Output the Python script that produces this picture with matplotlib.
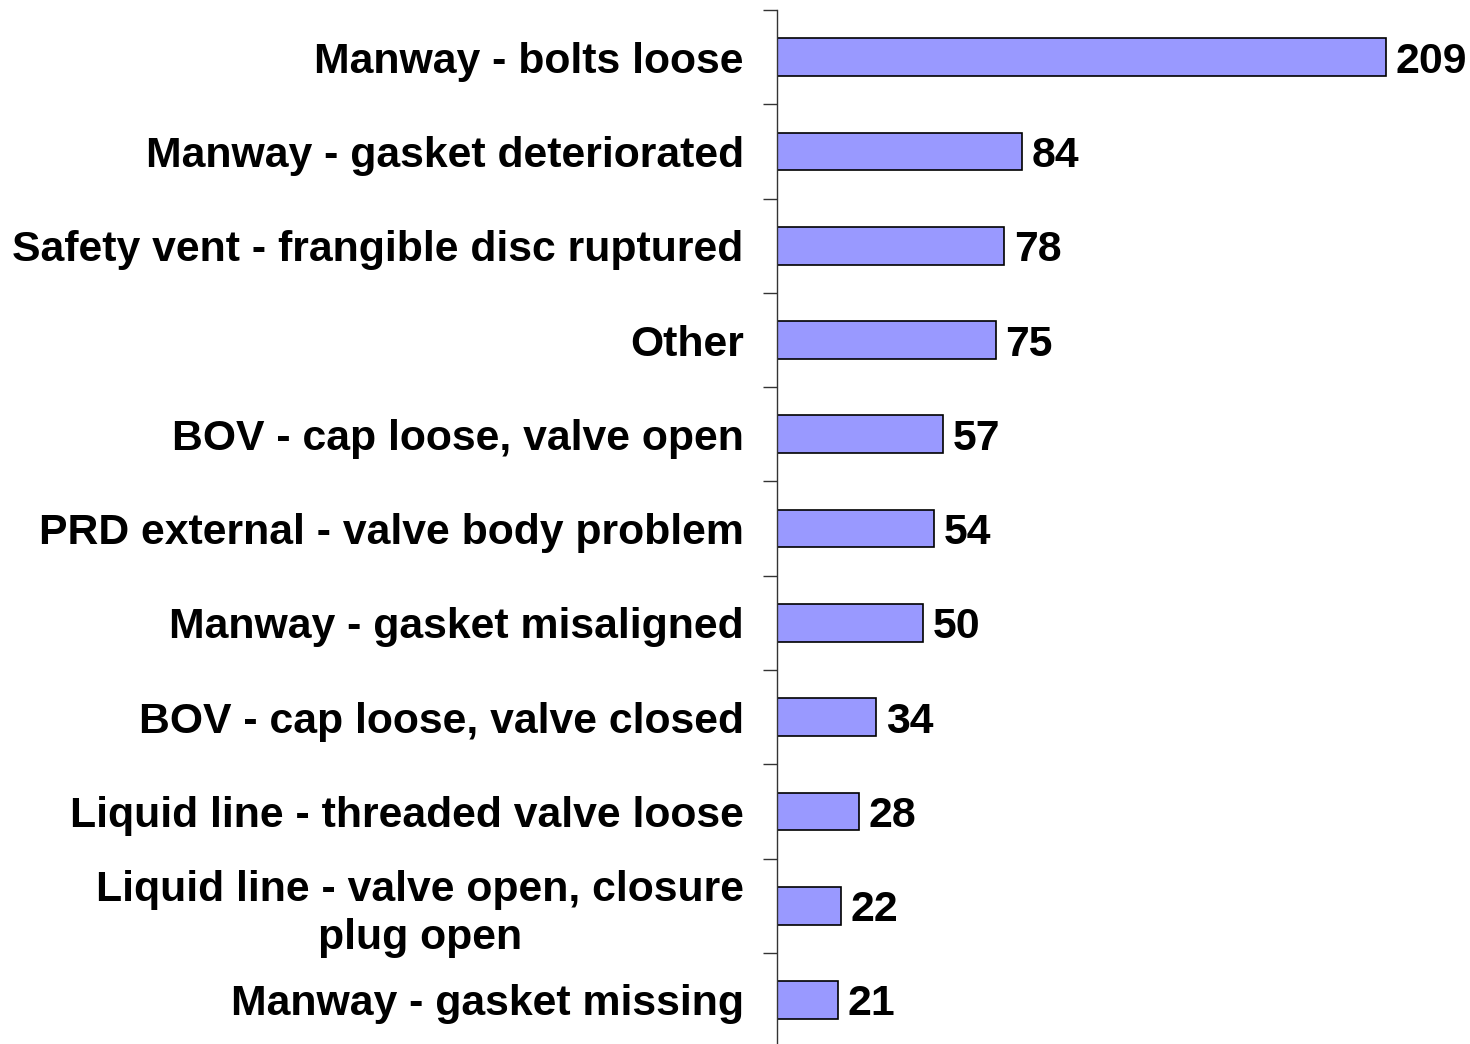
import matplotlib.pyplot as plt
import numpy as np

plt.rcParams['font.family'] = ['Liberation Sans', 'DejaVu Sans']

categories = [
    "Manway - bolts loose",
    "Manway - gasket deteriorated",
    "Safety vent - frangible disc ruptured",
    "Other",
    "BOV - cap loose, valve open",
    "PRD external - valve body problem",
    "Manway - gasket misaligned",
    "BOV - cap loose, valve closed",
    "Liquid line - threaded valve loose",
    "Liquid line - valve open, closure\nplug open",
    "Manway - gasket missing",
]
counts = [209, 84, 78, 75, 57, 54, 50, 34, 28, 22, 21]

fig = plt.figure(figsize=(14.7, 10.44), dpi=100)
ax = fig.add_axes([0.5286, -0.003, 0.4757, 0.9934])

y = np.arange(len(categories))
bars = ax.barh(y, counts, height=0.4, color="#9999FF", edgecolor="black", linewidth=1.2)
ax.set_ylim(len(categories) - 0.5, -0.5)
ax.set_xlim(0, 240)

ax.set_yticks(y)
ax.set_yticklabels(categories, fontsize=30.8, fontweight="bold")
for lab in ax.get_yticklabels():
    lab.set_multialignment("center")
    lab.set_linespacing(1.25)
ax.set_yticks(np.arange(len(categories) + 1) - 0.5, minor=True)
ax.tick_params(axis="y", which="major", length=0, pad=24)
ax.tick_params(axis="y", which="minor", length=10, width=1, color="#333333")

texts = ax.bar_label(bars, labels=[str(v) for v in counts], padding=7, fontsize=30.8, fontweight="bold")
for t in texts:
    t.set_va("center_baseline")

ax.set_xticks([])
for side in ["top", "right", "bottom"]:
    ax.spines[side].set_visible(False)
ax.spines["left"].set_color("#333333")
ax.spines["left"].set_linewidth(1)

fig.savefig("out.png", dpi=100)
